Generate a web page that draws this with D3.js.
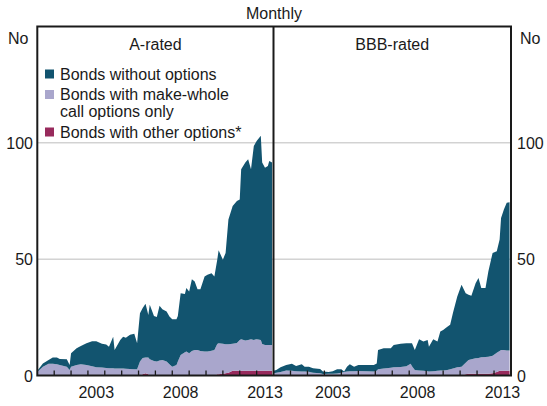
<!DOCTYPE html>
<html><head><meta charset="utf-8">
<script src="https://cdn.jsdelivr.net/npm/d3@7"></script>
<style>
body{margin:0;background:#fff}
svg text{font-family:Arial,"Liberation Sans",Helvetica,sans-serif;fill:#1a1a1a}
</style>
</head><body>
<svg id="chart" width="547" height="406"></svg>
<script>
// ---------- data ----------
const seriesKeys = ["other", "makeWhole", "without"];
const seriesNames = ["Bonds without options", ["Bonds with make-whole", "call options only"], "Bonds with other options*"];
const seriesColors = {without: "#12546f", makeWhole: "#a9a6cc", other: "#982a5c"};
const panelTitles = ["A-rated", "BBB-rated"];
const yTicks = [0, 50, 100];
const yTickLabels = ["0", "50", "100"];
const xLabelYears = [2003, 2008, 2013];
const subtitle = "Monthly";
const unitLabel = "No";

// A-rated
const aMonths = ["2000-01","2000-05","2000-09","2000-12","2001-03","2001-05","2001-10","2001-12","2002-01","2002-05",
"2002-08","2002-12","2003-04","2003-07","2003-11","2004-02","2004-04","2004-07","2004-08","2004-12",
"2005-02","2005-04","2005-07","2005-10","2005-12","2006-02","2006-04","2006-06","2006-08","2006-09",
"2006-12","2007-02","2007-04","2007-06","2007-09","2007-11","2008-01","2008-04","2008-05","2008-07",
"2008-10","2008-11","2009-01","2009-03","2009-05","2009-07","2009-09","2009-12","2010-02","2010-05",
"2010-07","2010-09","2010-10","2011-01","2011-03","2011-05","2011-08","2011-11","2012-01","2012-02",
"2012-05","2012-07","2012-09","2012-11","2013-01","2013-04","2013-05","2013-07","2013-09","2013-10","2013-12"];
const aWithout = [0.5,1.4,1.7,2.7,2.9,2.6,3.2,2.1,5.8,7.2,
7.9,9.4,10.7,11.2,10.2,10.1,9.3,13.6,8,12.3,
13.7,13.3,14.7,15.2,11.2,20.8,21.5,23.1,18.3,23.4,
19.4,19.1,23.5,21.8,21.5,20.6,20.4,19.7,19.6,26.6,
25,27.3,26.5,30.9,29.4,26.1,26.6,32.3,33,33.4,
31.6,36.3,39.9,36.2,39.3,53.6,59.2,61,60.3,73,
76.5,77.6,73,83.3,85.2,87.7,78,76.2,76.9,79.1,78.4];
const aMakeWhole = [1.5,3.8,5,5,4.8,4.5,3.8,2.4,3.8,4.5,
4.8,4.5,4.0,3.5,3.4,3.2,3.1,3.1,3,3,
3,2.9,2.8,2.7,2.7,6,7.0,6.7,7.2,7,
6.2,6,6.5,6.7,6,4.8,3.8,4.5,6,8.8,
10,10.3,9.6,10.5,11,11,10.5,10.3,10.3,10.6,
11,13,13.4,12.9,12.4,12.2,11.6,12,13.3,13.6,
13,13.3,13.6,13.3,13.6,13.3,11.5,11.1,11.1,11.1,11.1];
const aOther = [0,0,0,0,0,0,0,0,0,0,
0,0,0,0,0,0,0,0,0,0,
0,0,0,0,0,0,0.5,1,0.5,0,
0,0,0,0,0,0,0,0,0,0,
0,0,0,0,0,0,0,0,0,0,
0,0.5,0.5,0.7,1,1.2,2,2,2,2,
2,2,2,2,2,2,2,2,2,2,2];

// BBB-rated
const bMonths = ["2000-01","2000-03","2000-06","2000-10","2001-02","2001-05","2001-09","2001-11","2002-02","2002-05",
"2002-10","2002-12","2003-04","2003-07","2003-10","2004-01","2004-03","2004-05","2004-07","2004-10",
"2005-01","2005-07","2005-12","2006-02","2006-03","2006-07","2006-12","2007-02","2007-07","2007-11",
"2008-02","2008-03","2008-05","2008-08","2008-11","2009-02","2009-03","2009-06","2009-09","2009-11",
"2010-01","2010-04","2010-06","2010-08","2010-11","2011-02","2011-05","2011-07","2011-09","2011-12",
"2012-02","2012-04","2012-07","2012-09","2012-12","2013-03","2013-05","2013-06","2013-08","2013-10","2013-12"];
const bWithout = [1.0,1.2,2.0,2.4,3.0,2.3,3.1,2.1,2.2,1.9,
1.8,1.1,0.8,1.0,1.8,1.5,0.2,2.1,3.0,2.0,
2.6,2.7,2.8,3.2,8.3,8.7,8.4,9.6,10.0,9.9,
8.9,9.9,8.6,13.5,12.6,13.5,10.7,13.8,12.6,16.8,
17.4,18.6,19.1,24,30.5,35.2,29.9,28,27.3,32.3,
34.4,29.8,29.6,36.7,44.2,43.6,47.9,56.7,60.3,63.5,63.8];
const bMakeWhole = [1.0,1.2,1.5,2.1,2.0,1.8,1.7,1.7,1.6,1.2,
1.0,0.6,0.7,0.8,0.9,1.2,1.5,1.7,1.8,1.8,
1.9,1.8,1.7,2.0,2.7,3.0,3.3,3.5,3.6,4.0,
5.0,4.0,2.4,2.1,2.0,1.8,1.7,1.8,2.0,2.1,
2.2,2.4,2.7,3.0,3.5,3.8,5.0,5.9,6.2,6.6,
6.7,7.0,7.2,7.3,7.5,8.3,8.5,9,9,8.7,8.7];
const bOther = [0,0,0,0,0,0,0,0,0,0,
0,0,0,0,0,0,0,0,0,0,
0,0,0,0,0,0,0,0,0,0,
0,0,0,0,0,0,0,0,0,0,
0,0,0,0,0,0,0.5,0.8,0.8,0.8,
0.8,0.8,0.8,0.8,1,1.5,2,2,2,2,2];

// ---------- layout ----------
const svg = d3.select("#chart");
const plotTop = 26.5, plotBottom = 375.5;
const panels = [
  {x0: 37.3, x1: 273.5, title: panelTitles[0], months: aMonths, w: aWithout, m: aMakeWhole, o: aOther},
  {x0: 273.5, x1: 511, title: panelTitles[1], months: bMonths, w: bWithout, m: bMakeWhole, o: bOther}
];
const parse = d3.timeParse("%Y-%m");
const y = d3.scaleLinear().domain([0, 150]).range([plotBottom, plotTop]);

// gridlines
svg.append("g").selectAll("line").data(yTicks.filter(d => d > 0)).join("line")
  .attr("x1", panels[0].x0).attr("x2", panels[1].x1)
  .attr("y1", d => y(d)).attr("y2", d => y(d))
  .attr("stroke", "#bdbdbd").attr("stroke-width", 1);

const stack = d3.stack().keys(seriesKeys);

panels.forEach(p => {
  const x = d3.scaleTime().domain([new Date(2000, 0, 1), new Date(2014, 0, 1)]).range([p.x0, p.x1]);
  const rows = p.months.map((mo, i) => ({date: parse(mo), without: p.w[i], makeWhole: p.m[i], other: p.o[i]}));
  const layers = stack(rows);
  const area = d3.area().x(d => x(d.data.date)).y0(d => y(d[0])).y1(d => y(d[1])).curve(d3.curveLinear);
  svg.append("g").selectAll("path").data(layers).join("path")
    .attr("d", area).attr("fill", d => seriesColors[d.key]);

  // ticks (years, pointing up)
  const years = d3.range(2001, 2014).map(yr => new Date(yr, 0, 1));
  svg.append("g").selectAll("line").data(years).join("line")
    .attr("x1", d => x(d)).attr("x2", d => x(d))
    .attr("y1", plotBottom).attr("y2", plotBottom - 5)
    .attr("stroke", "#1a1a1a").attr("stroke-width", 1.3);

  // year labels centred in the year
  svg.append("g").selectAll("text").data(xLabelYears).join("text")
    .attr("x", d => x(new Date(d, 6, 1))).attr("y", 398)
    .attr("text-anchor", "middle").attr("font-size", 16).text(d => d);

  svg.append("text").attr("x", (p.x0 + p.x1) / 2).attr("y", 50)
    .attr("text-anchor", "middle").attr("font-size", 16).text(p.title);
});

// frame
svg.append("rect").attr("x", panels[0].x0).attr("y", plotTop)
  .attr("width", panels[1].x1 - panels[0].x0).attr("height", plotBottom - plotTop)
  .attr("fill", "none").attr("stroke", "#1a1a1a").attr("stroke-width", 2);
svg.append("line").attr("x1", panels[1].x0).attr("x2", panels[1].x0)
  .attr("y1", plotTop).attr("y2", plotBottom).attr("stroke", "#1a1a1a").attr("stroke-width", 2);

// y labels both sides
svg.append("g").selectAll("text").data(yTicks).join("text")
  .attr("x", 33).attr("y", d => y(d) + 6).attr("text-anchor", "end")
  .attr("font-size", 16).text((d, i) => yTickLabels[i]);
svg.append("g").selectAll("text").data(yTicks).join("text")
  .attr("x", 517).attr("y", d => y(d) + 6).attr("text-anchor", "start")
  .attr("font-size", 16).text((d, i) => yTickLabels[i]);
svg.append("text").attr("x", 8).attr("y", 44).attr("font-size", 16).text(unitLabel);
svg.append("text").attr("x", 520).attr("y", 44).attr("font-size", 16).text(unitLabel);

svg.append("text").attr("x", 274).attr("y", 19).attr("text-anchor", "middle")
  .attr("font-size", 16).text(subtitle);

// legend
const legend = [
  {key: "without", lines: [seriesNames[0]], sy: 69.5, ty: 79.5},
  {key: "makeWhole", lines: seriesNames[1], sy: 90, ty: 100},
  {key: "other", lines: [seriesNames[2]], sy: 127.5, ty: 137.5}
];
legend.forEach(l => {
  svg.append("rect").attr("x", 45).attr("y", l.sy).attr("width", 9).attr("height", 9)
    .attr("fill", seriesColors[l.key]);
  l.lines.forEach((ln, i) => svg.append("text").attr("x", 60).attr("y", l.ty + i * 16.5)
    .attr("font-size", 16).text(ln));
});
</script>
</body></html>
